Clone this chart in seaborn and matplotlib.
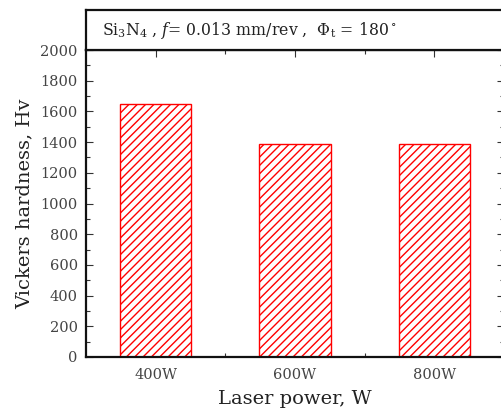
import matplotlib
matplotlib.use("Agg")
import matplotlib.pyplot as plt
import seaborn as sns
from matplotlib.ticker import MultipleLocator, FixedLocator

# data
powers = ["400W", "600W", "800W"]
hardness = [1650, 1390, 1390]

sns.set_style("ticks")
plt.rcParams['font.family'] = ['DejaVu Serif']
plt.rcParams['mathtext.fontset'] = 'dejavuserif'
plt.rcParams['hatch.color'] = 'red'
plt.rcParams['hatch.linewidth'] = 1.0

fig = plt.figure(figsize=(5.02, 4.13), dpi=100)

# main plot (right edge runs just past the image)
ax = fig.add_axes([0.1713, 0.1356, 0.8327, 0.7433])
sns.barplot(x=powers, y=hardness, ax=ax, width=0.51, color="white")
for p in ax.patches:
    p.set_facecolor("white")
    p.set_edgecolor("red")
    p.set_hatch("////")
    p.set_linewidth(1.0)

ax.set_xlim(-0.5, 2.5)
ax.set_ylim(0, 2000)
ax.yaxis.set_major_locator(MultipleLocator(200))
ax.yaxis.set_minor_locator(MultipleLocator(100))
ax.xaxis.set_minor_locator(FixedLocator([0.5, 1.5]))
ax.tick_params(which="both", direction="in", top=True, right=True,
               labelsize=10.5, colors="#333333", labelcolor="#444444")
ax.tick_params(which="major", length=5, width=0.8)
ax.tick_params(which="minor", length=3, width=0.8)
ax.tick_params(axis="x", pad=8)
ax.tick_params(axis="y", pad=6)
for s in ax.spines.values():
    s.set_linewidth(1.6)
    s.set_color("#111111")
ax.set_xlabel("Laser power, W", fontsize=14, labelpad=6, color="#222222")
ax.set_ylabel("Vickers hardness, Hv", fontsize=14, labelpad=5, color="#222222")

# condition box on top
tb = fig.add_axes([0.1713, 0.8789, 0.8327, 0.0969])
tb.set_xticks([])
tb.set_yticks([])
for s in tb.spines.values():
    s.set_linewidth(1.6)
    s.set_color("#111111")
tb.text(0.038, 0.5, r"Si$_3$N$_4$ , $f$= 0.013 mm/rev ,  $\mathit{\Phi}_{\rm t}$ = 180$^\circ$",
        transform=tb.transAxes, va="center", ha="left", fontsize=11.3, color="#222222")

fig.savefig("out.png", dpi=100)
